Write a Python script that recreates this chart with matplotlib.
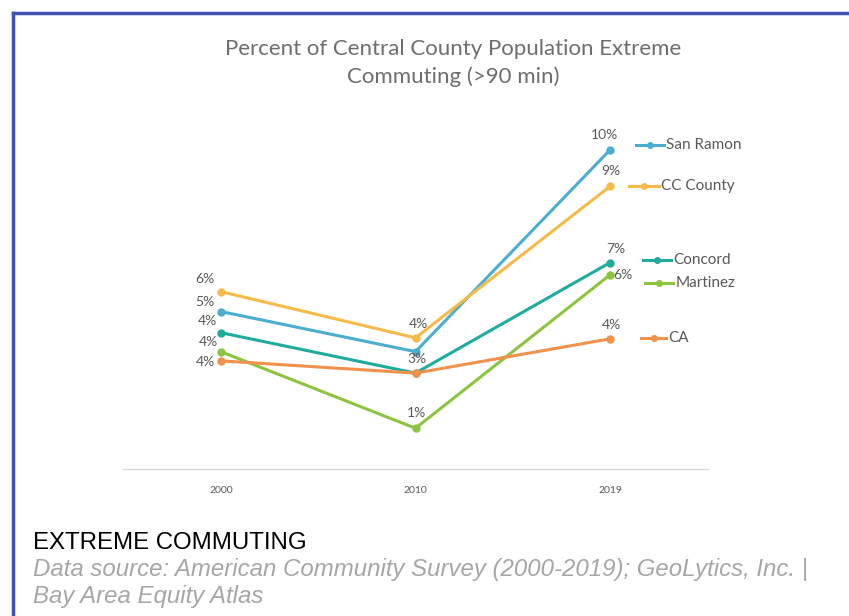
import matplotlib
matplotlib.use("Agg")
import matplotlib.pyplot as plt
from matplotlib.lines import Line2D

# data (percent)
years = ["2000", "2010", "2019"]
series_names = ["San Ramon", "CC County", "Concord", "Martinez", "CA"]
san_ramon = [5.14, 3.83, 10.42]
cc_county = [5.79, 4.28, 9.23]
concord = [4.45, 3.13, 6.74]
martinez = [3.83, 1.33, 6.34]
ca = [3.53, 3.13, 4.25]

values = {"San Ramon": san_ramon, "CC County": cc_county, "Concord": concord,
          "Martinez": martinez, "CA": ca}
colors = {"San Ramon": "#4BADCF", "CC County": "#F5BA48", "Concord": "#1FAB9E",
          "Martinez": "#8CC43F", "CA": "#F0914C"}

# data label offsets in pixels from each point (None = no label)
label_off = {
    "San Ramon": [(-15.5, 10), None, (-6, 15)],
    "CC County": [(-15.7, 12.4), (3, 14.3), (1, 15)],
    "Concord": [(-13, 11.7), (1, 14), (6, 13.4)],
    "Martinez": [(-12, 10), (1, 15.6), (13, 0)],
    "CA": [(-15.5, -0.7), None, (1, 14)],
}
# series name keys: (line start, line end, y) offsets in pixels from the last point
key_off = {
    "San Ramon": (26, 54, 5),
    "CC County": (19, 49, 0),
    "Concord": (33, 61, 3),
    "Martinez": (35, 63, -8),
    "CA": (31, 56, 1),
}

plt.rcParams['font.family'] = ['Lato', 'DejaVu Sans']
fig = plt.figure(figsize=(8.49, 6.16), dpi=100)
ax = fig.add_axes([123.5 / 849, 147 / 616, 584 / 849, 337 / 616])

x = list(range(len(years)))
for name in series_names:
    ax.plot(x, values[name], color=colors[name], lw=2.2, marker="o", ms=5,
            solid_capstyle="round", zorder=3)

ax.set_xlim(-0.5, 2.5)
ax.set_ylim(0, 11)
ax.set_xticks(x)
ax.set_xticklabels(years, fontsize=7.5, color="#595959")
ax.tick_params(axis="x", length=0, pad=12)
ax.set_yticks([])
for s in ["top", "right", "left"]:
    ax.spines[s].set_visible(False)
ax.spines["bottom"].set_color("#D9D9D9")
ax.spines["bottom"].set_linewidth(1)

for name in series_names:
    for i, v in enumerate(values[name]):
        off = label_off[name][i]
        if off is None:
            continue
        ax.annotate(f"{round(v):.0f}%", xy=(i, v), xytext=off,
                    textcoords="offset pixels", ha="center", va="center",
                    fontsize=10, color="#595959")

# series name labels at the right end
fig.canvas.draw()
for name in series_names:
    px, py = ax.transData.transform((x[-1], values[name][-1]))
    x0, x1, dy = key_off[name]
    fig.add_artist(Line2D([px + x0, px + x1], [py + dy, py + dy], transform=None,
                          color=colors[name], lw=2.2))
    fig.add_artist(Line2D([px + (x0 + x1) / 2], [py + dy], transform=None,
                          color=colors[name], marker="o", ms=4))
    fig.text((px + x1 + 2) / 849, (py + dy) / 616, name, ha="left", va="center",
             fontsize=11, color="#595959")

fig.text(0.534, 1 - 63 / 616, "Percent of Central County Population Extreme\nCommuting (>90 min)",
         ha="center", va="center", fontsize=16, color="#6E6E6E", linespacing=1.4)

fig.text(33 / 849, 1 - 543 / 616, "EXTREME COMMUTING", ha="left", va="center",
         fontsize=17.3, color="black", family="Liberation Sans")
fig.text(33 / 849, 1 - 583 / 616,
         "Data source: American Community Survey (2000-2019); GeoLytics, Inc. |\nBay Area Equity Atlas",
         ha="left", va="center", fontsize=17.3, color="#A6A6A6", style="italic",
         family="Liberation Sans", linespacing=1.2)

# blue frame on top and left
fig.add_artist(Line2D([12.5, 849], [616 - 12.5, 616 - 12.5], transform=None, color="#3F51B5", lw=2.5))
fig.add_artist(Line2D([12.5, 12.5], [0, 616 - 12.5], transform=None, color="#3F51B5", lw=2.5))

fig.savefig("out.png", dpi=100)
